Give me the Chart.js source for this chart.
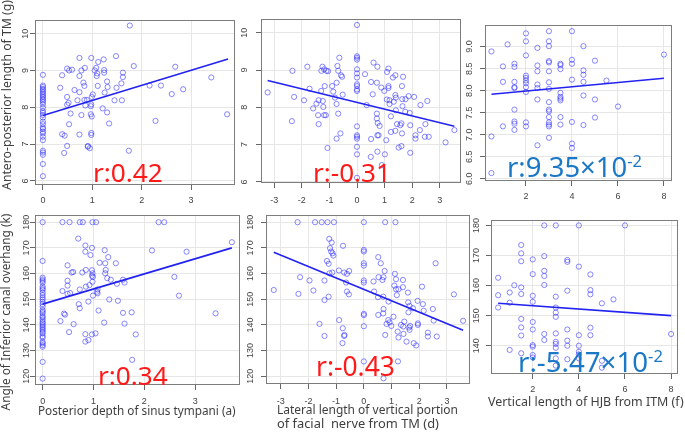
<!DOCTYPE html>
<html>
<head>
<meta charset="utf-8">
<script src="https://cdn.jsdelivr.net/npm/chart.js@4.4.1/dist/chart.umd.min.js"></script>
<style>
  body { margin: 0; background: #fff; }
  #wrap { position: relative; width: 685px; height: 432px; overflow: hidden; font-family: "Noto Sans", sans-serif; }
  #wrap canvas { position: absolute; }
  .txt { position: absolute; white-space: pre; line-height: 1; }
  .txt sup { font-size: 0.6em; vertical-align: 0.62em; line-height: 0; }
</style>
</head>
<body>
<div id="wrap"></div>
<script>
// panel 1: posterior depth (a) vs antero-posterior length of TM (g)
const panel1X = [0,0,0,0,0,0,0,0,0,0,0,0,0,0,0,0,0,0,0,0,0,0,0,0,0,0,0,0,0,0,0,
  1.76,1.48,0.74,0.98,1.12,1.23,1.84,2.68,0.39,0.49,0.53,0.59,0.78,0.85,1.05,1.08,1.10,1.09,1.24,1.24,
  1.62,1.62,0.74,1.30,0.82,0.84,0.35,0.64,1.11,1.31,1.59,1.49,2.16,2.39,2.84,3.41,2.61,1.25,0.74,0.49,
  0.84,0.89,0.70,0.98,0.99,1.01,1.45,1.60,0.52,0.49,0.97,0.86,1.21,0.56,0.78,0.97,0.99,1.30,3.73,0.53,
  1.34,2.28,0.39,0.44,0.74,0.98,0.98,0.49,0.91,0.91,0.95,0.43,1.74];
const panel1Y = [8.88,8.59,8.55,8.50,8.46,8.41,8.37,8.32,8.28,8.23,8.19,8.14,8.08,7.99,7.90,7.85,7.79,7.72,7.61,7.54,7.45,7.41,7.34,7.29,7.20,7.11,6.82,6.77,6.71,6.46,6.13,
  10.22,9.39,9.34,9.34,9.23,9.30,9.12,9.10,8.87,9.05,9.00,9.02,9.00,9.07,9.00,9.07,8.92,8.85,9.01,8.94,
  8.94,8.82,8.85,8.70,8.67,8.58,8.53,8.47,8.58,8.55,8.65,8.53,8.59,8.59,8.49,8.81,8.36,8.40,8.41,8.28,
  8.20,8.20,8.19,8.08,8.28,8.35,8.19,8.19,8.12,8.07,8.03,8.05,7.97,7.83,7.79,7.81,7.75,7.86,7.81,7.54,
  7.56,7.63,7.27,7.23,7.26,7.30,7.25,6.95,6.95,6.93,6.89,6.76,6.82];
const fit1X = [0, 3.75];
const fit1Y = [7.78, 9.31];

// panel 2: lateral length (d) vs antero-posterior length of TM (g)
const panel2X = [0,0,0,0,0,0,0,0,0,0,0,0,0,0,0,0,0,0,
  -3.24,-2.34,-2.28,-2.36,-1.92,-1.80,-1.72,-1.59,-1.47,-1.39,-1.41,-1.39,-1.30,-1.29,-1.25,-1.19,-1.24,-1.22,-1.19,-1.13,
  -1.17,-1.11,-1.07,-1.05,-0.90,-0.86,-0.80,-0.74,-0.74,-0.71,-0.68,-0.68,-0.64,-0.58,-0.54,-0.52,-0.60,-0.74,
  0.35,0.29,0.60,0.51,0.57,0.51,0.50,0.74,0.72,0.72,0.72,0.75,0.74,0.78,0.74,0.82,0.88,0.90,0.99,1.01,1.06,
  1.09,1.14,1.14,1.14,1.08,1.18,1.18,1.23,1.23,1.30,1.39,1.33,1.39,1.41,1.41,1.39,1.45,1.57,1.51,1.61,1.65,
  1.64,1.63,1.67,1.61,1.63,1.76,1.75,1.87,1.91,1.93,1.93,2.07,2.12,2.12,2.28,2.30,2.46,2.48,2.55,2.60,3.21,3.53];
const panel2Y = [10.21,9.37,9.33,9.28,9.02,8.91,8.80,8.62,8.57,8.48,8.44,7.49,7.25,7.21,7.16,6.94,6.74,6.11,
  8.40,8.98,8.28,7.63,8.19,9.09,8.50,7.97,8.10,8.19,7.79,7.55,8.44,8.98,9.09,9.02,8.17,8.01,7.79,7.79,
  8.57,8.98,6.91,8.97,8.57,8.42,8.26,8.66,8.09,9.11,8.98,7.83,9.33,8.86,8.82,8.34,7.30,7.16,
  8.06,8.89,9.20,8.68,8.35,7.15,6.67,9.09,8.66,7.83,7.70,7.58,7.25,7.25,6.81,7.50,8.53,6.45,8.44,6.74,7.12,
  8.95,9.04,8.57,8.52,8.21,8.19,8.09,7.76,7.34,8.80,8.86,8.15,8.33,8.26,7.92,7.37,7.55,7.52,6.92,6.96,8.03,
  8.22,8.57,8.82,7.57,7.30,8.22,7.88,8.30,7.85,7.52,6.78,8.28,7.25,7.16,7.39,8.06,7.21,7.55,8.17,7.21,7.06,7.39];
const fit2X = [-3.24, 3.53];
const fit2Y = [8.72, 7.49];

// panel 3: vertical length of HJB (f) vs antero-posterior length of TM (g)
const panel3X = [0.5,0.5,0.5,1,1,1,1.2,1.5,1.5,1.5,1.5,1.5,1.5,1.5,1.5,1.5,
  2,2,2,2,2,2,2,2,2,2,2,2.5,2.5,2.5,2.5,2.5,2.5,2.5,
  3,3,3,3,3,3,3,3,3,3,3,3,3,3,3,3,3.5,3.5,3.5,3.5,3.5,3.5,3.5,3.5,3.5,
  4,4,4,4,4,4,4,4.5,4.5,4.5,4.5,4.5,4.5,5,5,5,5.5,6,8];
const panel3Y = [8.89,6.96,6.13,8.55,8.20,7.19,9.05,8.61,8.54,8.20,8.08,8.06,7.57,7.30,7.25,7.11,
  9.30,9.12,8.80,8.34,8.29,8.23,8.17,8.08,7.97,7.28,7.19,8.97,8.57,8.44,8.14,8.06,7.80,6.76,
  9.35,9.12,9.01,8.67,8.64,8.44,8.19,8.04,7.74,7.57,7.53,7.40,7.28,7.23,7.19,6.93,8.61,8.58,8.49,7.95,7.86,7.82,7.78,7.40,7.23,
  9.35,8.70,8.61,8.25,7.29,6.80,6.70,9.01,8.46,8.36,8.20,7.89,7.22,8.68,7.80,7.39,8.23,7.64,8.82];
const fit3X = [0.5, 8];
const fit3Y = [7.92, 8.28];

// panel 4: posterior depth (a) vs angle of inferior canal overhang (k)
const panel4X = [0,0,0,0,0,0,0,0,0,0,0,0,0,0,0,0,0,0,0,0,0,0,0,0,0,0,0,0,0,0,0,0,0,0,0,0,0,0,
  0.39,0.53,0.73,0.79,0.98,1.05,2.28,2.39,
  0.70,0.84,0.97,0.84,0.94,1.22,2.15,2.83,3.72,1.29,1.12,1.23,1.44,0.49,0.85,0.97,1.24,0.57,0.60,0.78,
  0.98,1.23,0.97,0.99,2.59,1.27,1.34,1.58,0.49,0.98,1.61,1.46,0.49,0.92,0.85,0.39,0.73,1.08,1.07,1.08,
  0.54,0.49,0.99,2.68,1.31,1.48,0.90,0.71,0.73,1.10,0.42,0.44,1.58,1.75,3.40,0.35,1.21,0.61,1.61,0.52,
  0.84,0.97,1.04,1.83,0.90,0.84,1.76];
const panel4Y = [180,164.9,158.4,157.7,157.1,156.4,154.9,154.2,153.6,152.5,151.6,150.7,149.9,149.0,148.1,147.1,145.8,145.1,144.5,
  143.4,142.9,142.1,141.2,140.6,139.9,139.3,138.6,138.0,137.3,136.7,135.6,135.0,133.4,132.8,132.1,131.5,125.6,119.1,
  180,180,180,180,180,180,180,180,
  173.6,170.9,170.0,168.5,167.2,169.1,169.0,168.5,172.2,166.4,164.2,164.0,164.0,163.2,161.4,161.3,161.4,160.4,160.6,160.4,
  160.1,160.1,159.1,158.7,158.7,158.2,157.6,157.6,157.2,156.8,156.5,156.0,155.3,155.5,154.9,153.2,153.8,153.8,152.9,152.3,
  152.4,152.1,151.4,151.4,149.9,149.4,149.1,148.1,146.5,145.6,144.4,144.0,144.7,144.9,144.5,141.5,140.9,140.3,140.5,137.2,
  136.4,136.3,136.7,136.3,134.1,133.5,126.4];
const fit4X = [0, 3.72];
const fit4Y = [148.1, 170.0];

// panel 5: lateral length (d) vs angle of inferior canal overhang (k)
const panel5X = [-2.39,-1.76,-1.52,-1.31,-1.08,0,0.77,1.14,
  -3.25,-2.36,-2.30,-1.96,-1.82,-1.60,-1.42,-1.42,-1.42,-1.33,-1.27,-1.27,-1.25,-1.22,-1.16,-1.18,-1.13,-1.10,
  -1.24,-1.14,-0.90,-0.89,-0.75,-0.71,-0.76,-0.77,-0.70,-0.71,-0.64,-0.61,-0.53,-0.61,-0.54,
  0,0,0,0,0,0,0,0,0,0,0.35,0.37,0.52,0.51,0.52,0.61,0.53,0.67,0.75,0.71,0.70,0.71,0.70,0.77,0.82,0.88,0.93,
  0.71,0.89,0.99,1.07,1.12,1.10,1.16,1.16,1.19,1.25,1.22,1.23,1.25,1.34,1.41,1.41,1.42,1.43,1.46,1.54,
  1.59,1.60,1.65,1.61,1.63,1.67,1.65,1.77,1.80,1.89,1.94,1.95,1.95,2.10,2.13,2.16,2.31,2.31,2.49,2.52,
  2.59,2.63,3.25,3.58];
const panel5Y = [180,180,180,180,180,180,180,180,
  153.6,152.1,158.6,157.3,153.4,140.4,157.3,149.7,135.7,164.9,163.8,151.0,173.5,169.9,172.1,168.6,167.9,167.0,
  160.1,160.4,161.2,141.9,170.8,160.4,138.7,132.9,136.1,135.7,156.5,159.9,161.0,153.0,151.9,
  169.2,168.6,164.0,163.1,157.3,156.5,144.3,143.8,139.5,125.8,156.9,153.0,143.9,150.8,166.4,164.0,158.6,157.5,161.0,158.6,151.0,146.2,144.5,136.1,140.4,141.9,141.0,
  119.2,149.1,139.6,143.2,159.9,155.3,157.8,153.9,151.6,153.9,137.4,125.8,135.1,140.0,157.5,154.7,139.4,136.5,141.3,133.5,
  152.6,148.8,147.4,144.9,139.0,139.6,138.1,146.5,132.9,132.0,149.4,140.6,140.0,154.9,148.1,145.5,137.0,135.5,146.2,141.7,
  164.0,135.5,151.9,141.6];
const fit5X = [-3.25, 3.58];
const fit5Y = [168.3, 137.9];

// panel 6: vertical length of HJB (f) vs angle of inferior canal overhang (k)
const panel6X = [0.5,0.5,0.5,1,1,1,1.2,1.5,1.5,1.5,1.5,1.5,1.5,1.5,1.5,1.5,
  2,2,2,2,2,2,2,2,2,2,2.5,2.5,2.5,2.5,2.5,2.5,2.5,
  3,3,3,3,3,3,3,3,3,3,3,3.5,3.5,3.5,3.5,3.5,3.5,3.5,
  4,4,4,4,4,4,4,4.5,4.5,4.5,4.5,4.5,5,5,5,5.5,6,8];
const panel6Y = [162.6,156.8,152.7,138.6,157.7,154.3,160.1,173.5,170.7,168.1,159.4,157.2,148.9,146.1,143.4,137.5,
  168.7,163.8,156.6,154.6,147.9,145.4,140.2,139.7,136.9,136.1,180,169.8,164.9,163.2,160.2,143.9,141.9,
  180,156.3,152.7,151.0,149.6,144.1,141.3,140.6,139.3,135.8,133.4,168.5,167.9,158.3,145.4,141.7,140.0,135.5,
  180,166.3,143.5,140.0,138.0,137.1,135.8,163.7,158.5,157.1,146.0,143.5,135.0,132.7,154.1,155.4,180,143.9];
const fit6X = [0.5, 8];
const fit6Y = [154.1, 150.0];

// tick values and labels
const ticksDepth = [0, 1, 2, 3];
const ticksLateral = [-3, -2, -1, 0, 1, 2, 3];
const ticksHJB = [2, 4, 6, 8];
const ticksLenTM = [6, 7, 8, 9, 10];
const ticksLenTMfine = [6, 6.5, 7, 7.5, 8, 8.5, 9];
const labelsLenTMfine = ['6.0', '6.5', '7.0', '7.5', '8.0', '8.5', '9.0'];
const ticksAngle = [120, 130, 140, 150, 160, 170, 180];
const ticksAngleShort = [140, 150, 160, 170, 180];

const wrap = document.getElementById('wrap');

const plotBox = {
  id: 'plotBox',
  afterDraw(chart) {
    const { ctx, chartArea: a } = chart;
    ctx.save();
    ctx.strokeStyle = '#7d7d7d';
    ctx.lineWidth = 1;
    ctx.strokeRect(a.left + 0.5, a.top + 0.5, a.right - a.left - 1, a.bottom - a.top - 1);
    ctx.restore();
  }
};

function tickAxis(range, ticks, labels, pad, fit) {
  return {
    type: 'linear',
    min: range[0],
    max: range[1],
    afterBuildTicks: s => { s.ticks = ticks.map(v => ({ value: v })); },
    afterFit: fit,
    border: { display: false },
    grid: { color: '#e6e6e6', lineWidth: 1, tickColor: '#666', tickLength: 5 },
    ticks: {
      autoSkip: false,
      padding: pad,
      color: '#444',
      font: { family: '"Liberation Sans", Arial, sans-serif', size: 9 },
      callback: (v, i) => labels ? labels[i] : String(v)
    }
  };
}

function makePanel(p) {
  const [l, t, r, b] = p.box;
  const w = r - l + 52, h = b - t + 42;
  const canvas = document.createElement('canvas');
  canvas.width = w;
  canvas.height = h;
  canvas.style.left = (l - 40) + 'px';
  canvas.style.top = (t - 12) + 'px';
  wrap.appendChild(canvas);

  const xAxis = tickAxis(p.xRange, p.xTicks, null, p.xPad, s => { s.height = 30; });
  xAxis.ticks.maxRotation = 0;
  const yAxis = tickAxis(p.yRange, p.yTicks, p.yLabels, p.yPad, s => { s.width = 40; });
  // R writes the y labels turned to read upwards
  yAxis.ticks.minRotation = 90;
  yAxis.ticks.maxRotation = 90;
  yAxis.ticks.crossAlign = 'center';

  new Chart(canvas, {
    type: 'scatter',
    data: {
      datasets: [{
        data: p.xs.map((x, i) => ({ x: x, y: p.ys[i] })),
        pointRadius: 2.6,
        pointBorderWidth: 1,
        borderColor: 'rgba(40,40,255,0.55)',
        backgroundColor: 'rgba(0,0,0,0)',
        order: 1
      }, {
        type: 'line',
        data: p.fitX.map((x, i) => ({ x: x, y: p.fitY[i] })),
        borderColor: '#2222f2',
        borderWidth: 1.6,
        pointRadius: 0,
        fill: false,
        order: 0
      }]
    },
    options: {
      responsive: false,
      animation: false,
      events: [],
      layout: { padding: { left: 0, top: 12, right: 12, bottom: 0 } },
      plugins: { legend: { display: false }, tooltip: { enabled: false } },
      scales: { x: xAxis, y: yAxis }
    },
    plugins: [plotBox]
  });
}

const panels = [
  { box: [35, 20, 235, 185], xs: panel1X, ys: panel1Y, fitX: fit1X, fitY: fit1Y,
    xRange: [-0.16, 3.89], yRange: [5.89, 10.37], xTicks: ticksDepth, yTicks: ticksLenTM, xPad: 5, yPad: -1 },
  { box: [261, 19, 461, 183], xs: panel2X, ys: panel2Y, fitX: fit2X, fitY: fit2Y,
    xRange: [-3.48, 3.77], yRange: [5.97, 10.37], xTicks: ticksLateral, yTicks: ticksLenTM, xPad: 7, yPad: 6 },
  { box: [485, 25, 672, 181], xs: panel3X, ys: panel3Y, fitX: fit3X, fitY: fit3Y,
    xRange: [0.22, 8.35], yRange: [5.95, 9.49], xTicks: ticksHJB, yTicks: ticksLenTMfine, yLabels: labelsLenTMfine, xPad: 5, yPad: 4 },
  { box: [35, 215, 240, 385], xs: panel4X, ys: panel4Y, fitX: fit4X, fitY: fit4Y,
    xRange: [-0.15, 3.88], yRange: [116.6, 182.8], xTicks: ticksDepth, yTicks: ticksAngle, xPad: 6, yPad: -4 },
  { box: [266, 215, 470, 384], xs: panel5X, ys: panel5Y, fitX: fit5X, fitY: fit5Y,
    xRange: [-3.53, 3.83], yRange: [117, 182.8], xTicks: ticksLateral, yTicks: ticksAngle, xPad: 7, yPad: 3 },
  { box: [491, 220, 678, 374], xs: panel6X, ys: panel6Y, fitX: fit6X, fitY: fit6Y,
    xRange: [0.19, 8.3], yRange: [130.6, 181.8], xTicks: ticksHJB, yTicks: ticksAngleShort, xPad: 5, yPad: 2 }
];
panels.forEach(makePanel);

// text sized to the width it takes in the figure; baseline = y of the text baseline
function addText(html, o) {
  const el = document.createElement('div');
  el.className = 'txt';
  el.innerHTML = html;
  el.style.color = o.color;
  el.style.fontSize = '100px';
  if (o.family) el.style.fontFamily = o.family;
  wrap.appendChild(el);
  const fs = 100 * o.width / el.offsetWidth;
  el.style.fontSize = fs + 'px';
  if (o.rotate) {
    // reads bottom to top, centred on cy; baseline sits at x = o.baseline
    el.style.left = (o.baseline - 0.388 * fs) + 'px';
    el.style.top = o.cy + 'px';
    el.style.transform = 'translate(-50%, -50%) rotate(-90deg)';
  } else {
    el.style.left = o.x + 'px';
    el.style.top = (o.baseline - 0.888 * fs) + 'px';
  }
}

const titleColor = '#3f3f3f';
addText('Antero-posterior length of TM (g)', { color: titleColor, width: 190, rotate: true, baseline: 12, cy: 95 });
addText('Angle of Inferior canal overhang (k)', { color: titleColor, width: 197, rotate: true, baseline: 11, cy: 312 });
addText('Posterior depth of sinus tympani (a)', { color: titleColor, width: 198, x: 38, baseline: 415.5 });
addText('Lateral length of vertical portion', { color: titleColor, width: 181, x: 277, baseline: 414.5 });
addText('of facial  nerve from TM (d)', { color: titleColor, width: 162, x: 277, baseline: 428 });
addText('Vertical length of HJB from ITM (f)', { color: titleColor, width: 196, x: 488, baseline: 407.5 });

const red = '#ff1a1a', blue = '#1a78c6';
addText('r:0.42', { color: red, width: 70, x: 93, baseline: 182 });
addText('r:-0.31', { color: red, width: 78, x: 313, baseline: 182 });
addText('r:9.35×10<sup>-2</sup>', { color: blue, width: 135, x: 507, baseline: 177 });
addText('r:0.34', { color: red, width: 70, x: 98, baseline: 385 });
addText('r:-0.43', { color: red, width: 79, x: 316, baseline: 376 });
addText('r:-5.47×10<sup>-2</sup>', { color: blue, width: 145, x: 518, baseline: 373 });
</script>
</body>
</html>
